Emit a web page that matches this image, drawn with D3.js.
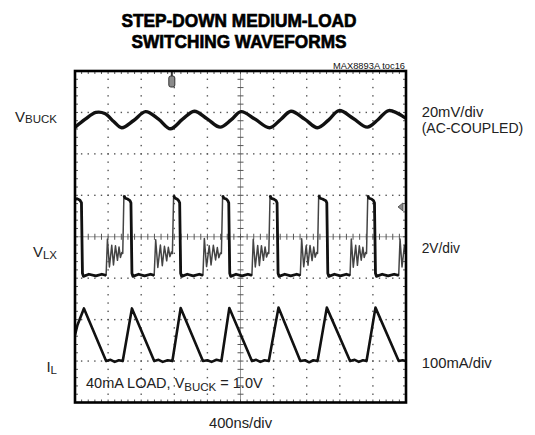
<!DOCTYPE html>
<html><head><meta charset="utf-8">
<script src="https://cdn.jsdelivr.net/npm/d3@7/dist/d3.min.js"></script>
<style>html,body{margin:0;padding:0;background:#fff;} svg{display:block;}</style>
</head><body>
<svg id="chart" width="535" height="435"></svg>
<script>
// ---------------- DATA ----------------
const titleLines = ["STEP-DOWN MEDIUM-LOAD", "SWITCHING WAVEFORMS"];
const figureId = "MAX8893A toc16";
const timeGridNs = [0, 400, 800, 1200, 1600, 2000, 2400, 2800, 3200, 3600, 4000];
const vertGridDiv = [-4, -3, -2, -1, 0, 1, 2, 3, 4];
const channelNames = ["V", "V", "I"];
const channelSubs = ["BUCK", "LX", "L"];
const channelScales = ["20mV/div", "(AC-COUPLED)", "2V/div", "100mA/div"];
const timeScaleLabel = "400ns/div";
const noteParts = ["40mA LOAD, V", "BUCK", " = 1.0V"];

// V_BUCK ripple: [time ns, mV]
const vbuck = [[0,-3.8],[120,0],[252,3.4],[360,2.9],[468,-1.0],[565,-4.0],[709,-0.5],[853,3.8],[1009,0.2],[1153,-4.5],[1297,0],[1441,4.0],[1598,0.3],[1754,-3.7],[1886,-0.2],[2006,3.8],[2174,0.2],[2351,-4.0],[2486,0],[2610,4.0],[2775,0.2],[2931,-4.0],[3063,-0.3],[3191,4.3],[3363,0.5],[3532,-3.7],[3664,0],[3792,4.3],[4000,0.5]];

// V_LX: [time ns, V]
const vlx = [
[0,3.65],[24,3.7],[60,3.62],[78,3.5],[90,0.1],[102,-0.05],[168,0.05],[252,-0.03],[324,0.05],[376,0.0],
[392,1.75],[416,0.4],[444,1.45],[465,0.5],[489,1.42],[513,0.72],[532,1.36],[549,0.86],[566,1.1],
[577,1.05],[591,3.85],[607,3.72],[637,3.68],[664,3.6],[676,3.5],[688,0.1],[700,-0.05],[769,0.05],[841,-0.03],[913,0.05],[957,0.0],
[975,1.72],[1001,0.38],[1032,1.46],[1055,0.46],[1081,1.4],[1108,0.7],[1128,1.35],[1147,0.9],[1165,1.12],
[1177,1.05],[1192,3.86],[1207,3.73],[1237,3.67],[1253,3.6],[1265,3.5],[1277,0.1],[1289,-0.05],[1357,0.05],[1429,-0.03],[1502,0.05],[1546,0.0],
[1563,1.78],[1590,0.42],[1622,1.42],[1644,0.5],[1672,1.45],[1699,0.74],[1720,1.34],[1738,0.85],[1757,1.08],
[1769,1.05],[1784,3.84],[1799,3.72],[1829,3.68],[1846,3.6],[1858,3.5],[1870,0.1],[1882,-0.05],[1946,0.05],[2018,-0.03],[2090,0.05],[2138,0.0],
[2154,1.74],[2179,0.4],[2208,1.44],[2228,0.47],[2253,1.43],[2277,0.72],[2297,1.37],[2315,0.88],[2332,1.1],
[2342,1.05],[2357,3.85],[2372,3.71],[2402,3.68],[2430,3.6],[2442,3.5],[2454,0.1],[2466,-0.05],[2535,0.05],[2607,-0.03],[2679,0.05],[2723,0.0],
[2739,1.76],[2764,0.41],[2794,1.43],[2816,0.49],[2840,1.44],[2865,0.71],[2885,1.36],[2902,0.87],[2920,1.1],
[2931,1.05],[2945,3.86],[2961,3.72],[2991,3.68],[3031,3.6],[3043,3.5],[3055,0.1],[3067,-0.05],[3135,0.05],[3207,-0.03],[3279,0.05],[3324,0.0],
[3339,1.75],[3363,0.39],[3392,1.45],[3413,0.48],[3436,1.42],[3459,0.73],[3479,1.35],[3495,0.86],[3512,1.1],
[3523,1.05],[3538,3.85],[3553,3.72],[3583,3.68],[3607,3.6],[3619,3.5],[3631,0.1],[3643,-0.05],[3712,0.05],[3784,-0.03],[3856,0.05],[3912,0.0],
[3928,1.75],[3952,0.4],[3981,1.44],[4000,0.9]];

// I_L: [time ns, mA]
const il = [[0,63],[30,87],[108,127],[376,0],[430,3],[480,-2],[530,2],[577,0],[688,127],[957,0],[1010,3],[1060,-2],[1120,2],[1177,0],[1277,128],[1546,0],[1600,2],[1650,-2],[1710,3],[1769,0],[1865,128],[2138,0],[2190,3],[2240,-2],[2290,2],[2342,0],[2459,129],[2723,0],[2780,2],[2830,-3],[2880,2],[2931,0],[3043,129],[3324,0],[3380,3],[3430,-2],[3480,2],[3523,0],[3631,129],[3912,0],[3960,2],[4000,0]];

const triggerTimeNs = 1170;
const triggerLevelV = 3.3;

// ---------------- LAYOUT ----------------
const svg = d3.select("#chart");
const frame = {left: 75, right: 406, top: 71, bottom: 402.5};
const x = d3.scaleLinear().domain([0, 4000]).range([frame.left, frame.right]);
const yDiv = d3.scaleLinear().domain([-4, 4]).range([frame.bottom, frame.top]);
const chan = {
  vbuck: {offset: 2.83, perDiv: 20},
  lx: {offset: -0.93, perDiv: 2},
  il: {offset: -3.0, perDiv: 100}
};
const yOf = c => v => yDiv(c.offset + v / c.perDiv);

const regFont = "'Liberation Sans', Arial, Helvetica, sans-serif";
const narrowFont = "'Liberation Sans Narrow', 'Arial Narrow', 'Liberation Sans', sans-serif";

// Title
const cx = 239;
[[titleLines[0], 26.5, 235], [titleLines[1], 48, 215]].forEach(([t, yy, len]) => {
  svg.append("text").attr("x", cx).attr("y", yy).attr("text-anchor", "middle")
    .attr("font-family", narrowFont).attr("font-weight", "bold").attr("font-size", 19)
    .attr("textLength", len).attr("lengthAdjust", "spacingAndGlyphs")
    .attr("stroke", "#000").attr("stroke-width", 0.7).attr("fill", "#000").text(t);
});

svg.append("text").attr("x", 405).attr("y", 68.5).attr("text-anchor", "end")
  .attr("font-family", regFont).attr("font-size", 9.5)
  .attr("textLength", 72).attr("lengthAdjust", "spacingAndGlyphs").attr("fill", "#111").text(figureId);

// Grid
const g = svg.append("g");
const minorT = d3.range(0, 4001, 80);
const minorD = d3.range(-4, 4.0001, 0.2);
timeGridNs.filter(t => t !== 0 && t !== 2000 && t !== 4000).forEach(t => {
  minorD.forEach(d => {
    g.append("rect").attr("x", x(t) - 0.7).attr("y", yDiv(d) - 0.7).attr("width", 1.4).attr("height", 1.4).attr("fill", "#555");
  });
});
vertGridDiv.filter(d => d !== 0 && Math.abs(d) !== 4).forEach(d => {
  minorT.forEach(t => {
    g.append("rect").attr("x", x(t) - 0.7).attr("y", yDiv(d) - 0.7).attr("width", 1.4).attr("height", 1.4).attr("fill", "#555");
  });
});
g.append("line").attr("x1", x(2000)).attr("x2", x(2000)).attr("y1", yDiv(-4)).attr("y2", yDiv(4)).attr("stroke", "#999").attr("stroke-width", 1);
g.append("line").attr("x1", x(0)).attr("x2", x(4000)).attr("y1", yDiv(0)).attr("y2", yDiv(0)).attr("stroke", "#999").attr("stroke-width", 1.2);
minorD.forEach(d => {
  g.append("line").attr("x1", x(2000) - 3).attr("x2", x(2000) + 3).attr("y1", yDiv(d)).attr("y2", yDiv(d)).attr("stroke", "#555").attr("stroke-width", 1);
  g.append("line").attr("x1", x(0)).attr("x2", x(0) + 3).attr("y1", yDiv(d)).attr("y2", yDiv(d)).attr("stroke", "#555").attr("stroke-width", 1);
  g.append("line").attr("x1", x(4000) - 3).attr("x2", x(4000)).attr("y1", yDiv(d)).attr("y2", yDiv(d)).attr("stroke", "#555").attr("stroke-width", 1);
});
minorT.forEach(t => {
  g.append("line").attr("x1", x(t)).attr("x2", x(t)).attr("y1", yDiv(0) - 3).attr("y2", yDiv(0) + 3).attr("stroke", "#555").attr("stroke-width", 1);
  g.append("line").attr("x1", x(t)).attr("x2", x(t)).attr("y1", yDiv(4)).attr("y2", yDiv(4) + 3).attr("stroke", "#555").attr("stroke-width", 1);
  g.append("line").attr("x1", x(t)).attr("x2", x(t)).attr("y1", yDiv(-4) - 3).attr("y2", yDiv(-4)).attr("stroke", "#555").attr("stroke-width", 1);
});

// clip
svg.append("clipPath").attr("id", "clip").append("rect")
  .attr("x", frame.left).attr("y", frame.top).attr("width", frame.right - frame.left).attr("height", frame.bottom - frame.top);
const tr = svg.append("g").attr("clip-path", "url(#clip)");

const lineV = d3.line().x(d => x(d[0])).y(d => yOf(chan.vbuck)(d[1])).curve(d3.curveCatmullRom.alpha(0.5));
const lineLX = d3.line().x(d => x(d[0])).y(d => yOf(chan.lx)(d[1]));
const lineLXflat = d3.line().defined(d => d[1] < 0.2 || d[1] > 3.45).x(d => x(d[0])).y(d => yOf(chan.lx)(d[1]));
const lineIL = d3.line().x(d => x(d[0])).y(d => yOf(chan.il)(d[1]));

tr.append("path").attr("d", lineV(vbuck)).attr("fill", "none").attr("stroke", "#111").attr("stroke-width", 3.4).attr("stroke-linejoin", "round");
tr.append("path").attr("d", lineLX(vlx)).attr("fill", "none").attr("stroke", "#444").attr("stroke-width", 1.5).attr("stroke-linejoin", "round");
tr.append("path").attr("d", lineLXflat(vlx)).attr("fill", "none").attr("stroke", "#111").attr("stroke-width", 2.8).attr("stroke-linejoin", "round");
tr.append("path").attr("d", lineIL(il)).attr("fill", "none").attr("stroke", "#111").attr("stroke-width", 2.6).attr("stroke-linejoin", "round");

// markers
const tx = x(triggerTimeNs);
svg.append("line").attr("x1", tx).attr("x2", tx).attr("y1", frame.top + 1).attr("y2", frame.top + 5).attr("stroke", "#333").attr("stroke-width", 2);
svg.append("rect").attr("x", tx - 3).attr("y", frame.top + 5).attr("width", 6).attr("height", 11).attr("rx", 2)
  .attr("fill", "#8a8a8a").attr("stroke", "#333").attr("stroke-width", 1);
const ly = yOf(chan.lx)(triggerLevelV);
svg.append("path").attr("d", `M${frame.right - 8},${ly} L${frame.right - 3},${ly - 4} L${frame.right - 3},${ly + 4} Z`)
  .attr("fill", "#888").attr("stroke", "#444").attr("stroke-width", 0.8);

// frame
svg.append("rect").attr("x", frame.left).attr("y", frame.top).attr("width", frame.right - frame.left).attr("height", frame.bottom - frame.top)
  .attr("fill", "none").attr("stroke", "#000").attr("stroke-width", 2.6);

// Left channel labels
const leftBase = [121.5, 257, 372];
const subDy = [1, 1.5, 1.7];
channelNames.forEach((n, i) => {
  const t = svg.append("text").attr("x", 57).attr("y", leftBase[i]).attr("text-anchor", "end")
    .attr("font-family", regFont).attr("font-size", 15).attr("fill", "#222");
  t.append("tspan").text(n);
  t.append("tspan").attr("font-size", 11.5).attr("dy", subDy[i]).text(channelSubs[i]);
});

// Right scale labels
const rightInfo = [[117.3, 61.6], [133.3, 101.6], [253.3, 38.3], [368, 70]];
channelScales.forEach((s, i) => {
  svg.append("text").attr("x", 421.7).attr("y", rightInfo[i][0])
    .attr("font-family", regFont).attr("font-size", 15).attr("fill", "#222")
    .attr("textLength", rightInfo[i][1]).attr("lengthAdjust", "spacingAndGlyphs").text(s);
});

// time scale
svg.append("text").attr("x", 240.5).attr("y", 427.5).attr("text-anchor", "middle")
  .attr("font-family", regFont).attr("font-size", 15).attr("fill", "#222")
  .attr("textLength", 63).attr("lengthAdjust", "spacingAndGlyphs").text(timeScaleLabel);

// note inside plot
const note = svg.append("text").attr("x", 86).attr("y", 388)
  .attr("font-family", regFont).attr("font-size", 14.5).attr("fill", "#222");
note.append("tspan").text(noteParts[0]);
note.append("tspan").attr("font-size", 11.5).attr("dy", 3).text(noteParts[1]);
note.append("tspan").attr("dy", -3).text(noteParts[2]);
</script>
</body></html>
